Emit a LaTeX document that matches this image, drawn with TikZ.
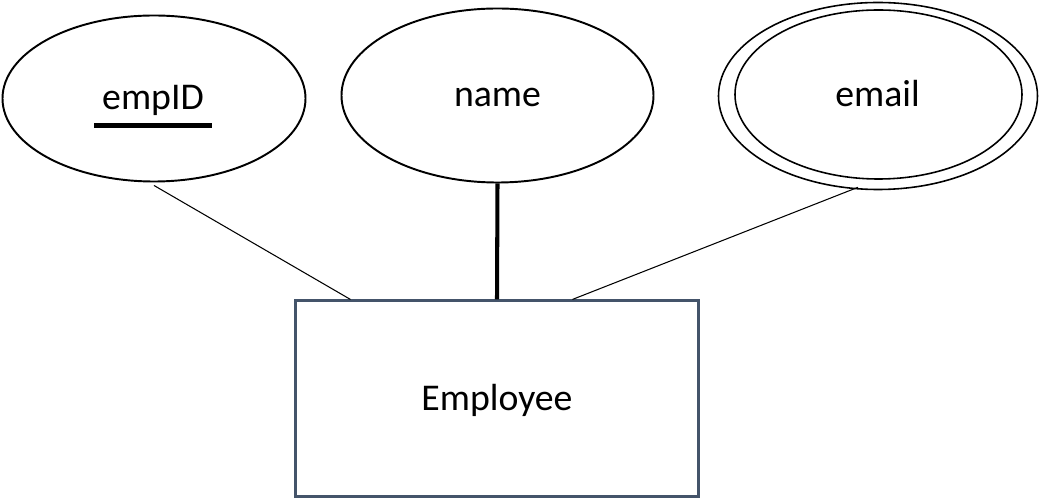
\documentclass[tikz,border=0pt]{standalone}
\usepackage{fontspec}
\setmainfont{Carlito}
\usetikzlibrary{shapes.geometric,calc}
\newdimen\pxu
\pxu=0.02cm
\begin{document}
\begin{tikzpicture}[x=0.02cm,y=-0.02cm,
  lbl/.style={font=\fontsize{21.5}{25}\selectfont,anchor=base,inner sep=0pt},
  attr/.style={ellipse,draw=black,line width=1.1pt,inner sep=0pt},
  ring/.style={ellipse,draw=black,line width=0.9pt,inner sep=0pt},
  entity/.style={rectangle,draw={rgb,255:red,68;green,84;blue,106},line width=1.2pt,inner sep=0pt},
  thinlink/.style={draw=black,line width=0.6pt},
  thicklink/.style={draw=black,line width=2.3pt}]
\useasboundingbox (0,0) rectangle (1039,499);
\node[attr,minimum width={303*\pxu},minimum height={166*\pxu}] (emp) at (154,98.5) {};
\node[lbl] (emptext) at (153,110) {empID};
\coordinate (ul1) at (94,125.5);
\coordinate (ul2) at (212,125.5);
\draw[line width=2.5pt] (ul1) -- (ul2);
\node[attr,minimum width={312*\pxu},minimum height={174*\pxu}] (name) at (497.5,95.5) {};
\node[lbl] (nametext) at (497.5,107) {name};
\node[ring,minimum width={319*\pxu},minimum height={187*\pxu}] (emailo) at (878,96) {};
\node[ring,minimum width={287*\pxu},minimum height={169*\pxu}] (emaili) at (878.5,94.5) {};
\node[lbl] (emailtext) at (877.5,107) {email};
\node[entity,minimum width={403*\pxu},minimum height={196*\pxu}] (ent) at (497,398.5) {};
\node[lbl] (enttext) at (497,411) {Employee};
\coordinate (t1) at ($(ent.north west)+(56,0)$);
\coordinate (t3) at ($(ent.north west)+(278,0)$);
\coordinate (e1) at ($(emp.south)+(0,3)$);
\coordinate (m1) at ($(emailo.south)+(-20,-3)$);
\path[thinlink] (e1) -- (t1);
\path[thicklink] (name.south) -- (ent.north);
\path[thinlink] (m1) -- (t3);
\end{tikzpicture}
\end{document}
